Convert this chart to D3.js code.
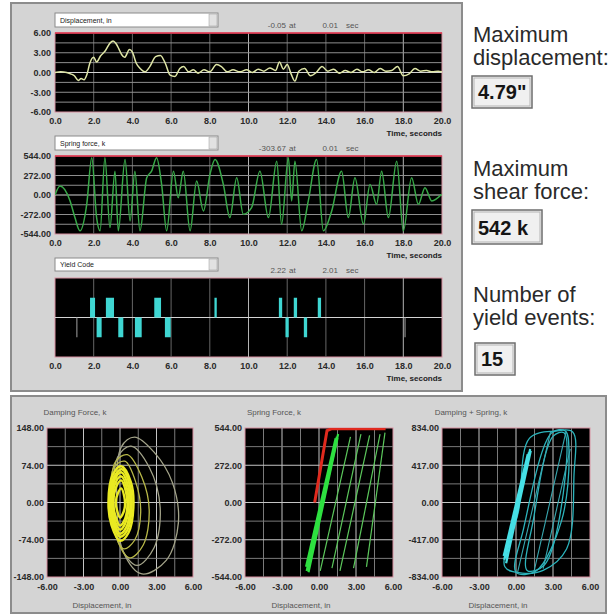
<!DOCTYPE html>
<html>
<head>
<meta charset="utf-8">
<script src="https://cdn.jsdelivr.net/npm/d3@7"></script>
<style>
  body { margin: 0; background: #fff; }
  svg { display: block; font-family: "Liberation Sans", Arial, sans-serif; }
</style>
</head>
<body>
<script>
// ---- time history data ----
const timeTicks = [0, 2, 4, 6, 8, 10, 12, 14, 16, 18, 20];
const dispTicks = [6, 3, 0, -3, -6];
const forceTicks = [544, 272, 0, -272, -544];

const dispT = [0, 0.3, 0.6, 0.8, 1.0, 1.2, 1.35, 1.5, 1.65, 1.8,
               2.0, 2.15, 2.35, 2.6, 2.85, 3.0, 3.15, 3.3, 3.45, 3.6,
               3.85, 4.0, 4.2, 4.4, 4.65, 4.9, 5.2, 5.45, 5.7, 5.95,
               6.2, 6.45, 6.65, 6.9, 7.15, 7.4, 7.7, 8.0, 8.35, 8.6,
               8.9, 9.2, 9.55, 9.9, 10.2, 10.5, 10.8, 11.1, 11.4, 11.6,
               11.8, 12.0, 12.2, 12.4, 12.6, 12.9, 13.2, 13.5, 13.8, 14.1,
               14.4, 14.7, 15.0, 15.3, 15.6, 15.9, 16.2, 16.5, 16.8, 17.1,
               17.4, 17.7, 18.0, 18.3, 18.6, 18.9, 19.2, 19.5, 19.8, 20.0];
const dispV = [0.0, 0.1, 0.0, -0.2, -0.5, -1.2, -0.9, -1.1, -0.3, 1.4,
               2.3, 1.6, 2.5, 3.3, 4.5, 4.79, 4.4, 3.6, 2.7, 2.3,
               3.5, 3.1, 1.4, 0.6, 0.1, 0.9, 2.4, 2.6, 1.4, -0.4,
               -0.6, 0.6, 0.9, 0.1, 0.4, -0.1, 0.4, 0.1, 1.2, 0.9,
               0.1, 0.4, 0.1, 0.4, 0.0, 0.5, 0.2, 0.7, 0.3, 1.6,
               0.5, 1.2, -0.2, -1.3, 0.2, 0.6, -0.5, 0.0, 0.9, 0.2,
               0.5, -0.1, 0.3, 0.0, 0.5, 0.1, 0.4, 0.0, 0.6, 0.2,
               0.3, 0.9, -0.5, -0.2, 0.6, 0.2, 0.3, 0.1, 0.2, 0.1];

const forceT = [0, 0.26, 0.78, 1.03, 1.29, 1.64, 1.90, 2.15, 2.33, 2.58,
                2.84, 3.10, 3.27, 3.62, 3.88, 4.13, 4.39, 4.74, 4.99, 5.25,
                5.51, 5.77, 6.12, 6.37, 6.63, 6.98, 7.32, 7.67, 8.01, 8.27,
                8.70, 9.04, 9.39, 9.73, 10.16, 10.59, 11.03, 11.46, 11.71, 12.06,
                12.23, 12.40, 12.75, 13.09, 13.52, 13.87, 14.30, 14.81, 15.16, 15.50,
                15.94, 16.28, 16.62, 16.88, 17.23, 17.66, 18.00, 18.43, 18.78, 19.12,
                19.47, 19.98];
const forceV = [0, 125, -83, -315, -500, -130, 520, -315, -500, 520,
                -454, 333, -500, 495, -361, 333, -500, 241, 333, 520,
                148, -500, 333, -37, 333, -500, 194, -222, 287, 495,
                148, -315, 241, -269, -176, 333, -315, 472, -407, 520,
                -83, 472, -500, -83, 495, -500, -222, 333, -315, 241,
                -407, 148, -130, 333, -315, 472, -500, 241, -130, 102,
                -83, 9];

// yield events: start time, end time, code, kind
const yieldStart = [1.10, 1.81, 2.15, 2.63, 3.27, 4.13, 5.13, 5.68, 8.24, 11.57, 11.91, 12.34, 12.86, 13.58, 18.06];
const yieldEnd   = [1.16, 2.07, 2.41, 3.05, 3.53, 4.48, 5.48, 5.98, 8.36, 11.74, 12.08, 12.51, 13.03, 13.75, 18.12];
const yieldCode  = [-1, 1, -1, 1, -1, -1, 1, -1, 1, 1, -1, 1, -1, 1, -1];
const yieldKind  = ["minor", "major", "major", "major", "major", "major", "major", "major",
                    "major", "major", "major", "major", "major", "major", "minor"];

// ---- hysteresis data: [displacement, force] ----
const loopDispTicks = [-6, -3, 0, 3, 6];
const dampTicks = [148, 74, 0, -74, -148];
const springTicks = [544, 272, 0, -272, -544];
const totalTicks = [834, 417, 0, -417, -834];

const dampOuter = [
  [[-0.25, -10], [0.1, 110], [1.2, 130], [2.8, 100], [4.3, 40], [4.8, -40], [3.8, -115], [1.8, -142], [0.3, -100]],
  [[-0.5, 0], [-0.2, 90], [0.9, 112], [2.4, 70], [3.3, -10], [2.8, -90], [1.4, -125], [0.0, -85]]
];
const dampMid = [
  [[-0.7, 0], [-0.4, 80], [0.6, 95], [1.8, 50], [2.4, -15], [1.9, -85], [0.8, -110], [-0.3, -70]],
  [[-0.8, 5], [-0.5, 70], [0.4, 82], [1.3, 40], [1.7, -20], [1.2, -75], [0.3, -92], [-0.5, -55]]
];
const dampInner = [
  [[-0.95, 0], [-0.6, 55], [0.1, 72], [0.9, 40], [1.1, -10], [0.7, -60], [0.0, -76], [-0.7, -45]],
  [[-0.85, 5], [-0.5, 50], [0.15, 66], [0.8, 35], [0.95, -12], [0.6, -55], [0.0, -68], [-0.6, -40]],
  [[-0.75, 0], [-0.45, 45], [0.1, 60], [0.7, 30], [0.85, -10], [0.5, -50], [0.0, -62], [-0.55, -35]],
  [[-0.65, 0], [-0.4, 38], [0.1, 52], [0.6, 25], [0.7, -10], [0.4, -43], [0.0, -54], [-0.5, -30]],
  [[-0.55, 0], [-0.3, 32], [0.1, 44], [0.5, 20], [0.6, -10], [0.35, -36], [0.0, -46], [-0.4, -25]],
  [[-0.35, 0], [-0.15, 20], [0.1, 28], [0.35, 12], [0.4, -8], [0.2, -24], [0.0, -30], [-0.25, -15]]
];

const springBackbone = [[-0.35, 0], [0.65, 525], [1.0, 538], [5.4, 538]];
const springBand = [
  [[-1.0, -500], [1.45, 480]], [[-0.9, -490], [1.55, 500]],
  [[-1.05, -470], [1.35, 470]], [[-0.85, -510], [1.5, 470]]
];
const springBranches = [
  [[0.1, -500], [2.55, 480]], [[1.05, -480], [3.4, 500]], [[1.7, -500], [4.1, 490]],
  [[2.8, -480], [4.95, 500]], [[3.85, -470], [5.35, 510]]
];

const totalBand = [
  [[-0.95, -640], [1.05, 560]], [[-0.85, -620], [1.15, 600]],
  [[-1.0, -600], [0.95, 540]], [[-0.8, -680], [1.2, 580]]
];
const totalLoops = [
  [[-0.9, -720], [0.5, -790], [2.2, -760], [4.1, -520], [4.7, 300], [4.6, 790], [3.2, 800], [1.1, 720], [0.2, -100]],
  [[0.0, -780], [1.6, -770], [3.7, -200], [4.3, 560], [4.0, 800], [2.9, 780], [0.6, -300]],
  [[0.9, -760], [2.3, -700], [4.0, 300], [3.9, 780], [3.0, 740], [1.4, -200]]
];
const totalBranches = [
  [[0.1, -800], [2.8, 790]], [[1.45, -780], [4.05, 790]], [[2.2, -740], [4.4, 600]]
];

// ---- drawing ----
const W = 608, H = 615;
const FONT = "Liberation Sans, Arial, sans-serif";
const fmt2 = d => d.toFixed(2);
const fmt1 = d => d.toFixed(1);

const svg = d3.select("body").append("svg")
  .attr("width", W)
  .attr("height", H);

svg.append("rect")
  .attr("x", 11).attr("y", 3).attr("width", 451).attr("height", 388)
  .attr("fill", "#d4d4d4").attr("stroke", "#8c8c8c").attr("stroke-width", 2);

svg.append("rect")
  .attr("x", 11).attr("y", 396).attr("width", 595).attr("height", 217)
  .attr("fill", "#d4d4d4").attr("stroke", "#8c8c8c").attr("stroke-width", 2);

function styleAxis(g) {
  g.select(".domain").remove();
  g.attr("font-family", FONT).attr("font-size", 9).attr("font-weight", "bold");
  g.selectAll("text").attr("fill", "#2a2a2a");
}

let clipId = 0;
function clipFor(x0, y0, w, h) {
  const id = "clip" + (clipId++);
  svg.append("clipPath").attr("id", id)
    .append("rect").attr("x", x0).attr("y", y0).attr("width", w).attr("height", h);
  return "url(#" + id + ")";
}

const xTime = d3.scaleLinear().domain([0, 20]).range([55, 442]);

function timePanel(c) {
  const y = d3.scaleLinear().domain(c.domain).range([c.bottom, c.top]);
  const g = svg.append("g");

  // dropdown
  g.append("rect")
    .attr("x", 55).attr("y", c.dropY).attr("width", 163).attr("height", c.dropH)
    .attr("fill", "#fff").attr("stroke", "#8a8a8a");
  g.append("rect")
    .attr("x", 209).attr("y", c.dropY + 1).attr("width", 8).attr("height", c.dropH - 2)
    .attr("fill", "#e2e2e2").attr("stroke", "#9a9a9a").attr("stroke-width", 0.5);
  g.append("text")
    .attr("x", 60).attr("y", c.dropY + c.dropH - 4)
    .attr("font-size", 7).attr("fill", "#222")
    .text(c.label);

  // readout
  const ro = g.append("g").attr("font-size", 8).attr("fill", "#555");
  ro.append("text").attr("x", 286).attr("y", c.readY).attr("text-anchor", "end").text(c.readout[0]);
  ro.append("text").attr("x", 289).attr("y", c.readY).text("at");
  ro.append("text").attr("x", 338).attr("y", c.readY).attr("text-anchor", "end").text(c.readout[1]);
  ro.append("text").attr("x", 346).attr("y", c.readY).text("sec");

  // plot background
  g.append("rect")
    .attr("x", 55).attr("y", c.top).attr("width", 387).attr("height", c.bottom - c.top)
    .attr("fill", "#000").attr("stroke", "#d890a0").attr("stroke-width", 1);

  // vertical grid
  g.selectAll(".vg").data(timeTicks.slice(1, -1)).enter().append("line")
    .attr("x1", d => xTime(d)).attr("x2", d => xTime(d))
    .attr("y1", c.top).attr("y2", c.bottom)
    .attr("stroke", d => (d === 10 || d === 18) ? "#b4b4b4" : "#666")
    .attr("stroke-width", 1);

  // horizontal grid
  g.selectAll(".hg").data(c.hGrid).enter().append("line")
    .attr("x1", 55).attr("x2", 442)
    .attr("y1", d => y(d)).attr("y2", d => y(d))
    .attr("stroke", d => d === 0 ? "#d4d4d4" : "#8e8e8e")
    .attr("stroke-width", 1);

  if (c.redTop) {
    g.append("line")
      .attr("x1", 55).attr("x2", 442).attr("y1", c.top).attr("y2", c.top)
      .attr("stroke", "#e0304a").attr("stroke-width", 1.5);
  }

  const plot = g.append("g").attr("clip-path", clipFor(55, c.top, 387, c.bottom - c.top));

  // axes
  if (c.ticks) {
    g.append("g")
      .attr("transform", "translate(55,0)")
      .call(d3.axisLeft(y).tickValues(c.ticks).tickFormat(fmt2).tickSize(0).tickPadding(4))
      .call(styleAxis);
  }
  g.append("g")
    .attr("transform", "translate(0," + c.bottom + ")")
    .call(d3.axisBottom(xTime).tickValues(timeTicks).tickFormat(fmt1).tickSize(0).tickPadding(6))
    .call(styleAxis);

  g.append("text")
    .attr("x", 442).attr("y", c.bottom + 24)
    .attr("text-anchor", "end")
    .attr("font-size", 8).attr("font-weight", "bold").attr("fill", "#222")
    .text("Time, seconds");

  return { plot: plot, y: y };
}

// chart 1: displacement
const c1 = timePanel({
  top: 33, bottom: 112, dropY: 13, dropH: 14, readY: 28,
  label: "Displacement, in", readout: ["-0.05", "0.01"],
  domain: [-6, 6], ticks: dispTicks,
  hGrid: [4.5, 3, 1.5, 0, -1.5, -3, -4.5], redTop: true
});
c1.plot.append("path")
  .datum(d3.zip(dispT, dispV))
  .attr("fill", "none")
  .attr("stroke", "#dfe6a6")
  .attr("stroke-width", 1.5)
  .attr("d", d3.line().x(d => xTime(d[0])).y(d => c1.y(d[1])).curve(d3.curveMonotoneX));

// chart 2: spring force
const c2 = timePanel({
  top: 156, bottom: 234, dropY: 136, dropH: 14, readY: 151,
  label: "Spring force, k", readout: ["-303.67", "0.01"],
  domain: [-544, 544], ticks: forceTicks,
  hGrid: [408, 272, 136, 0, -136, -272, -408], redTop: true
});
c2.plot.append("path")
  .datum(d3.zip(forceT, forceV))
  .attr("fill", "none")
  .attr("stroke", "#38a848")
  .attr("stroke-width", 1.5)
  .attr("d", d3.line().x(d => xTime(d[0])).y(d => c2.y(d[1])).curve(d3.curveMonotoneX));

// chart 3: yield code
const c3 = timePanel({
  top: 278, bottom: 357, dropY: 258, dropH: 13, readY: 273,
  label: "Yield Code", readout: ["2.22", "2.01"],
  domain: [-2, 2], ticks: null,
  hGrid: [0], redTop: false
});
c3.plot.selectAll("rect.yield")
  .data(d3.range(yieldStart.length))
  .enter().append("rect")
  .attr("class", "yield")
  .attr("x", i => xTime(yieldStart[i]))
  .attr("width", i => Math.max(1, xTime(yieldEnd[i]) - xTime(yieldStart[i])))
  .attr("y", i => c3.y(Math.max(0, yieldCode[i])))
  .attr("height", i => Math.abs(c3.y(yieldCode[i]) - c3.y(0)))
  .attr("fill", i => yieldKind[i] === "minor" ? "#8c8c8c" : "#3fd6d2");

// ---- hysteresis panels ----
function loopPanel(c) {
  const x = d3.scaleLinear().domain([-6, 6]).range([c.left, c.right]);
  const y = d3.scaleLinear().domain(c.domain).range([c.bottom, c.top]);
  const g = svg.append("g");
  const w = c.right - c.left, h = c.bottom - c.top;

  g.append("text")
    .attr("x", c.left + w / 2 - 45).attr("y", c.top - 13)
    .attr("text-anchor", "middle")
    .attr("font-size", 8).attr("fill", "#555")
    .text(c.title);

  g.append("rect")
    .attr("x", c.left).attr("y", c.top).attr("width", w).attr("height", h)
    .attr("fill", "#000").attr("stroke", "#d890a0");

  const xGrid = d3.range(1, 8).map(i => -6 + i * 1.5);
  const yStep = (c.domain[1] - c.domain[0]) / 8;
  const yGrid = d3.range(1, 8).map(i => c.domain[0] + i * yStep);

  g.selectAll(".vg").data(xGrid).enter().append("line")
    .attr("x1", d => x(d)).attr("x2", d => x(d))
    .attr("y1", c.top).attr("y2", c.bottom)
    .attr("stroke", d => loopDispTicks.includes(d) ? "#c4c4c4" : "#7a7a7a");
  g.selectAll(".hg").data(yGrid).enter().append("line")
    .attr("x1", c.left).attr("x2", c.right)
    .attr("y1", d => y(d)).attr("y2", d => y(d))
    .attr("stroke", (d, i) => i % 2 === 1 ? "#c4c4c4" : "#7a7a7a");

  g.append("g")
    .attr("transform", "translate(" + c.left + ",0)")
    .call(d3.axisLeft(y).tickValues(c.ticks).tickFormat(fmt2).tickSize(0).tickPadding(3))
    .call(styleAxis);
  g.append("g")
    .attr("transform", "translate(0," + c.bottom + ")")
    .call(d3.axisBottom(x).tickValues(loopDispTicks).tickFormat(fmt2).tickSize(0).tickPadding(7))
    .call(styleAxis);

  g.append("text")
    .attr("x", c.left + w / 2 - 18).attr("y", c.bottom + 31)
    .attr("text-anchor", "middle")
    .attr("font-size", 8).attr("fill", "#555")
    .text("Displacement, in");

  const plot = g.append("g").attr("clip-path", clipFor(c.left, c.top, w, h));
  return { plot: plot, x: x, y: y };
}

function drawLoops(p, loops, color, width) {
  const line = d3.line().x(d => p.x(d[0])).y(d => p.y(d[1])).curve(d3.curveCatmullRomClosed.alpha(0.5));
  p.plot.selectAll(null).data(loops).enter().append("path")
    .attr("d", line).attr("fill", "none")
    .attr("stroke", color).attr("stroke-width", width);
}
function drawSegs(p, segs, color, width) {
  const line = d3.line().x(d => p.x(d[0])).y(d => p.y(d[1]));
  p.plot.selectAll(null).data(segs).enter().append("path")
    .attr("d", line).attr("fill", "none")
    .attr("stroke", color).attr("stroke-width", width);
}

const p1 = loopPanel({ left: 47, right: 193, top: 428, bottom: 577, domain: [-148, 148], ticks: dampTicks, title: "Damping Force, k" });
drawLoops(p1, dampOuter, "#a4a48a", 1.3);
drawLoops(p1, dampMid, "#b8b848", 1.3);
drawLoops(p1, dampInner, "#eaea22", 2.4);

const p2 = loopPanel({ left: 245, right: 393, top: 428, bottom: 577, domain: [-544, 544], ticks: springTicks, title: "Spring Force, k" });
p2.plot.append("path")
  .datum(springBackbone)
  .attr("fill", "none").attr("stroke", "#e02a1e").attr("stroke-width", 3)
  .attr("d", d3.line().x(d => p2.x(d[0])).y(d => p2.y(d[1])));
drawSegs(p2, springBranches, "#5cc85c", 1.2);
drawSegs(p2, springBand, "#2ee040", 2.2);

const p3 = loopPanel({ left: 442, right: 590, top: 428, bottom: 577, domain: [-834, 834], ticks: totalTicks, title: "Damping + Spring, k" });
drawLoops(p3, totalLoops, "#2cb4bc", 1.3);
drawSegs(p3, totalBranches, "#38a8b0", 1.1);
drawSegs(p3, totalBand, "#46e0e6", 2.2);

// ---- summary text on the right ----
const summary = [
  { lines: ["Maximum", "displacement:"], y: 42, box: [472, 76, 60, 32], value: "4.79\"" },
  { lines: ["Maximum", "shear force:"], y: 176, box: [472, 210, 70, 34], value: "542 k" },
  { lines: ["Number of", "yield events:"], y: 302, box: [475, 343, 40, 32], value: "15" }
];
summary.forEach(s => {
  s.lines.forEach((t, i) => {
    svg.append("text")
      .attr("x", 473).attr("y", s.y + i * 23)
      .attr("font-size", 22).attr("fill", "#2a2a2a")
      .text(t);
  });
  const [bx, by, bw, bh] = s.box;
  svg.append("rect")
    .attr("x", bx).attr("y", by).attr("width", bw).attr("height", bh)
    .attr("fill", "#f0f0f0").attr("stroke", "#6e6e6e").attr("stroke-width", 1.5);
  svg.append("rect")
    .attr("x", bx + 2).attr("y", by + 2).attr("width", bw - 4).attr("height", bh - 4)
    .attr("fill", "none").attr("stroke", "#b4b4b4").attr("stroke-width", 1);
  svg.append("text")
    .attr("x", bx + 6).attr("y", by + bh - 9)
    .attr("font-size", 20).attr("font-weight", "bold").attr("fill", "#151515")
    .text(s.value);
});
</script>
</body>
</html>
